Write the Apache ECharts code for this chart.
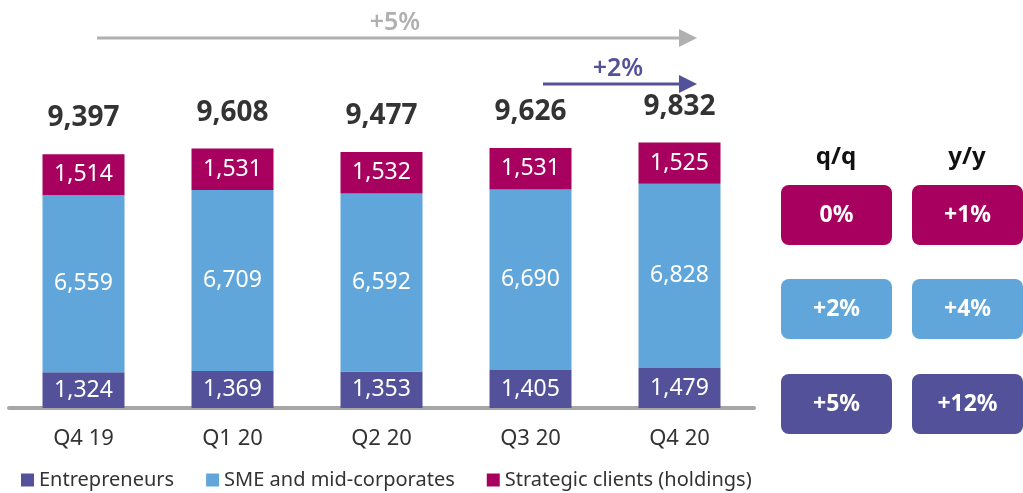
<!DOCTYPE html>
<html>
<head>
<meta charset="utf-8">
<script src="https://cdn.jsdelivr.net/npm/echarts@6/dist/echarts.min.js"></script>
<style>
  html, body { margin: 0; padding: 0; background: #fff; }
  #chart { width: 1023px; height: 493px; }
</style>
</head>
<body>
<div id="chart"></div>
<script>
// quarters
var categories = ["Q4 19", "Q1 20", "Q2 20", "Q3 20", "Q4 20"];
// segment values
var entrepreneurs = [1324, 1369, 1353, 1405, 1479];
var smeMidCorp = [6559, 6709, 6592, 6690, 6828];
var strategicClients = [1514, 1531, 1532, 1531, 1525];
// totals as printed above the bars
var totals = [9397, 9608, 9477, 9626, 9832];
// change boxes on the right (strategic, sme, entrepreneurs)
var qqChange = ["0%", "+2%", "+5%"];
var yyChange = ["+1%", "+4%", "+12%"];

var FONT = "Noto Sans";
var colors = ["#525199", "#60A6DA", "#A8005F"];

function fmt(v) {
  return v.toLocaleString("en-US");
}

var chart = echarts.init(document.getElementById("chart"));

// right hand boxes
var boxes = [];
var boxColors = [colors[2], colors[1], colors[0]];
var rowTop = [185, 279, 374];
boxes.push({ type: "text", x: 836, y: 157, style: { text: "q/q", font: "bold 24px " + FONT, fill: "#111", align: "center", verticalAlign: "middle" } });
boxes.push({ type: "text", x: 967, y: 157, style: { text: "y/y", font: "bold 24px " + FONT, fill: "#111", align: "center", verticalAlign: "middle" } });
for (var i = 0; i < 3; i++) {
  [[781, qqChange[i]], [912, yyChange[i]]].forEach(function (c) {
    boxes.push({
      type: "rect",
      shape: { x: c[0], y: rowTop[i], width: 111, height: 60, r: 8 },
      style: { fill: boxColors[i] }
    });
    boxes.push({
      type: "text",
      x: c[0] + 55.5, y: rowTop[i] + 30,
      style: { text: c[1], font: "bold 23px " + FONT, fill: "#fff", align: "center", verticalAlign: "middle" }
    });
  });
}

// growth arrows
var arrows = [
  { x1: 97, x2: 697, y: 38, color: "#b0b0b0", text: "+5%", tx: 395, ty: 23 },
  { x1: 543, x2: 697, y: 84, color: "#525199", text: "+2%", tx: 618, ty: 69 }
];
arrows.forEach(function (a) {
  boxes.push({ type: "line", shape: { x1: a.x1, y1: a.y, x2: a.x2 - 14, y2: a.y }, style: { stroke: a.color, lineWidth: 3 } });
  boxes.push({ type: "polygon", shape: { points: [[a.x2 - 18, a.y - 9], [a.x2, a.y], [a.x2 - 18, a.y + 9]] }, style: { fill: a.color } });
  boxes.push({ type: "text", x: a.tx, y: a.ty, style: { text: a.text, font: "600 25px " + FONT, fill: a.color, align: "center", verticalAlign: "middle" } });
});

var insideLabel = {
  show: true,
  position: "inside",
  color: "#fff",
  fontSize: 23,
  fontFamily: FONT,
  formatter: function (p) { return fmt(p.value); }
};

chart.setOption({
  animation: false,
  textStyle: { fontFamily: FONT },
  color: colors,
  grid: { left: 9, width: 745, top: 84, bottom: 85 },
  legend: {
    data: ["Entrepreneurs", "SME and mid-corporates", "Strategic clients (holdings)"],
    left: 16,
    top: 465,
    icon: "rect",
    itemWidth: 13,
    itemHeight: 13,
    itemGap: 32,
    textStyle: { fontSize: 20, color: "#333", fontFamily: FONT }
  },
  xAxis: {
    type: "category",
    data: categories,
    axisTick: { show: false },
    axisLine: { lineStyle: { color: "#a6a6a6", width: 4 } },
    axisLabel: { fontSize: 22, color: "#333", margin: 20, fontFamily: FONT }
  },
  yAxis: { type: "value", min: 0, max: 12000, show: false, splitLine: { show: false } },
  series: [
    { name: "Entrepreneurs", type: "bar", stack: "total", barWidth: 82, data: entrepreneurs, label: insideLabel },
    { name: "SME and mid-corporates", type: "bar", stack: "total", barWidth: 82, data: smeMidCorp, label: insideLabel },
    { name: "Strategic clients (holdings)", type: "bar", stack: "total", barWidth: 82, data: strategicClients, label: insideLabel },
    {
      name: "total", type: "bar", stack: "total", barWidth: 82,
      data: totals.map(function () { return 0; }),
      itemStyle: { color: "transparent" },
      label: {
        show: true, position: "top", distance: 22,
        fontSize: 28, fontWeight: "bold", color: "#333", fontFamily: FONT,
        formatter: function (p) { return fmt(totals[p.dataIndex]); }
      },
      tooltip: { show: false }
    }
  ],
  graphic: boxes
});
</script>
</body>
</html>
